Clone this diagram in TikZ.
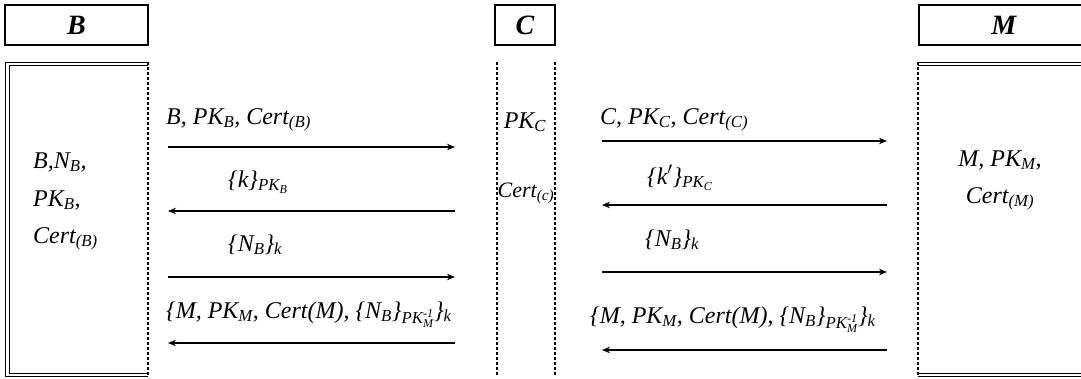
\documentclass[tikz,border=0pt]{standalone}
\usepackage{amsmath}
\usepackage{fontspec}
\setmainfont{Liberation Serif}
\usetikzlibrary{arrows.meta}
\newcommand{\sbt}[1]{$_{\text{\itshape #1}}$}
\newcommand{\sbtt}[2]{$_{\text{\itshape #1}_{\text{\itshape #2}}}$}
\newcommand{\sbinv}{$_{\text{\itshape PK}^{\text{-1}}_{\text{\itshape M}}}$}
\begin{document}
\begin{tikzpicture}[x=1pt,y=-1pt,
  hdr/.style={draw,line width=1.8pt,minimum height=40pt,font=\fontsize{28}{32}\selectfont\bfseries\itshape},
  lbl/.style={font=\fontsize{24}{28}\selectfont\itshape,inner sep=0pt},
  msg/.style={line width=1.2pt,-{Stealth[length=8pt,width=6.5pt]}},
  life/.style={densely dashed,line width=1.1pt},
  dbl/.style={line width=1pt}]
\useasboundingbox (0,0) rectangle (1081,378);
% headers
\node[hdr,minimum width=143pt] (hB) at (76.5,25) {B};
\node[hdr,minimum width=60pt] (hC) at (525,25) {C};
\node[hdr,minimum width=170pt,anchor=west] (hM) at (918,25) {M};
% B body
\draw[dbl] (148,62) -- (5,62) -- (5,376) -- (148,376);
\draw[dbl] (148,65) -- (9,65) -- (9,373) -- (148,373);
\draw[life] (148,62) -- (148,376);
% C body
\draw[life] (497,62) -- (497,376);
\draw[life] (555,62) -- (555,376);
% M body
\draw[dbl] (918,62) -- (1081,62);
\draw[dbl] (918,65) -- (1081,65);
\draw[dbl] (918,376) -- (1081,376);
\draw[dbl] (918,373) -- (1081,373);
\draw[life] (918,62) -- (918,376);
% texts in bodies
\node[lbl,anchor=base west] (b1) at (33,168) {B,N\sbt{B},};
\node[lbl,anchor=base west] (b2) at (33,206) {PK\sbt{B},};
\node[lbl,anchor=base west] (b3) at (33,243) {Cert\sbt{(B)}};
\node[lbl,anchor=base] (c1) at (525,128) {PK\sbt{C}};
\node[lbl,anchor=base,font=\fontsize{22}{26}\selectfont\itshape] (c2) at (526,197) {Cert\sbt{(c)}};
\node[lbl,anchor=base] (m1) at (1000,166) {M, PK\sbt{M},};
\node[lbl,anchor=base] (m2) at (1000,203) {Cert\sbt{(M)}};
% arrow anchors
\coordinate (L1) at (168,147); \coordinate (R1) at (455,147);
\coordinate (L2) at (168,211); \coordinate (R2) at (455,211);
\coordinate (L3) at (168,277); \coordinate (R3) at (455,277);
\coordinate (L4) at (168,343); \coordinate (R4) at (455,343);
\coordinate (P1) at (602,141); \coordinate (Q1) at (887,141);
\coordinate (P2) at (602,205); \coordinate (Q2) at (887,205);
\coordinate (P3) at (602,272); \coordinate (Q3) at (887,272);
\coordinate (P4) at (602,350); \coordinate (Q4) at (887,350);
\draw[msg] (L1) -- (R1);
\draw[msg] (R2) -- (L2);
\draw[msg] (L3) -- (R3);
\draw[msg] (R4) -- (L4);
\draw[msg] (P1) -- (Q1);
\draw[msg] (Q2) -- (P2);
\draw[msg] (P3) -- (Q3);
\draw[msg] (Q4) -- (P4);
% message labels left
\node[lbl,anchor=base west] (t1) at (166,124) {B, PK\sbt{B}, Cert\sbt{(B)}};
\node[lbl,anchor=base west] (t2) at (228,187) {\{k\}\sbtt{PK}{B}};
\node[lbl,anchor=base west] (t3) at (228,251) {\{N\sbt{B}\}\sbt{k}};
\node[lbl,anchor=base west] (t4) at (166,318) {\{M, PK\sbt{M}, Cert(M), \{N\sbt{B}\}\sbinv\}\sbt{k}};
% message labels right
\node[lbl,anchor=base west] (u1) at (600,124) {C, PK\sbt{C}, Cert\sbt{(C)}};
\node[lbl,anchor=base west] (u2) at (647,184) {\{k$'$\}\sbtt{PK}{C}};
\node[lbl,anchor=base west] (u3) at (645,246) {\{N\sbt{B}\}\sbt{k}};
\node[lbl,anchor=base west] (u4) at (590,323) {\{M, PK\sbt{M}, Cert(M), \{N\sbt{B}\}\sbinv\}\sbt{k}};
\end{tikzpicture}
\end{document}
